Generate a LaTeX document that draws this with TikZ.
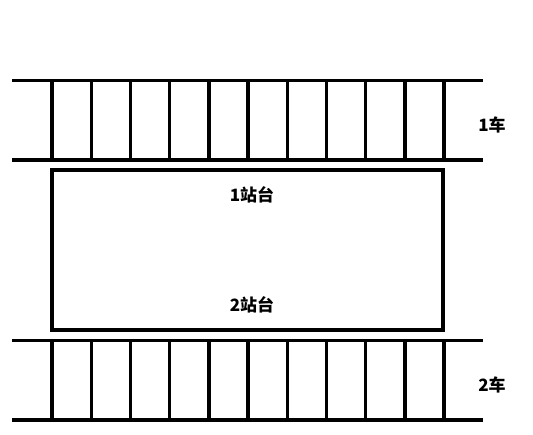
\documentclass[tikz,border=0pt]{standalone}
\usepackage{fontspec}
\newfontfamily\cjk{Noto Sans CJK SC}
\usepackage{tikz}

\begin{document}
\begin{tikzpicture}[x=1pt,y=-1pt]
\tikzset{rail/.style={black, line width=3.4pt},
  label/.style={font=\cjk\bfseries\fontsize{17}{20}\selectfont}}
\useasboundingbox (0,0) rectangle (533,434);

% track 1
\draw [rail] (12,80.5) -- (483,80.5) ;
\draw [rail] (12,160) -- (483,160) ;
\foreach \i in {0,...,10}
  \draw [rail] (52+39.2*\i,80.5) -- (52+39.2*\i,160) ;
\node [label] (car1) at (492,125) {1车};

% platform
\draw [rail] (52,170) rectangle (443,330) ;
\node [label] (plat1) at (252,195) {1站台};
\node [label] (plat2) at (252,305) {2站台};

% track 2
\draw [rail] (12,340.5) -- (483,340.5) ;
\draw [rail] (12,420) -- (483,420) ;
\foreach \i in {0,...,10}
  \draw [rail] (52+39.2*\i,340.5) -- (52+39.2*\i,420) ;
\node [label] (car2) at (492,385) {2车};

\end{tikzpicture}
\end{document}
